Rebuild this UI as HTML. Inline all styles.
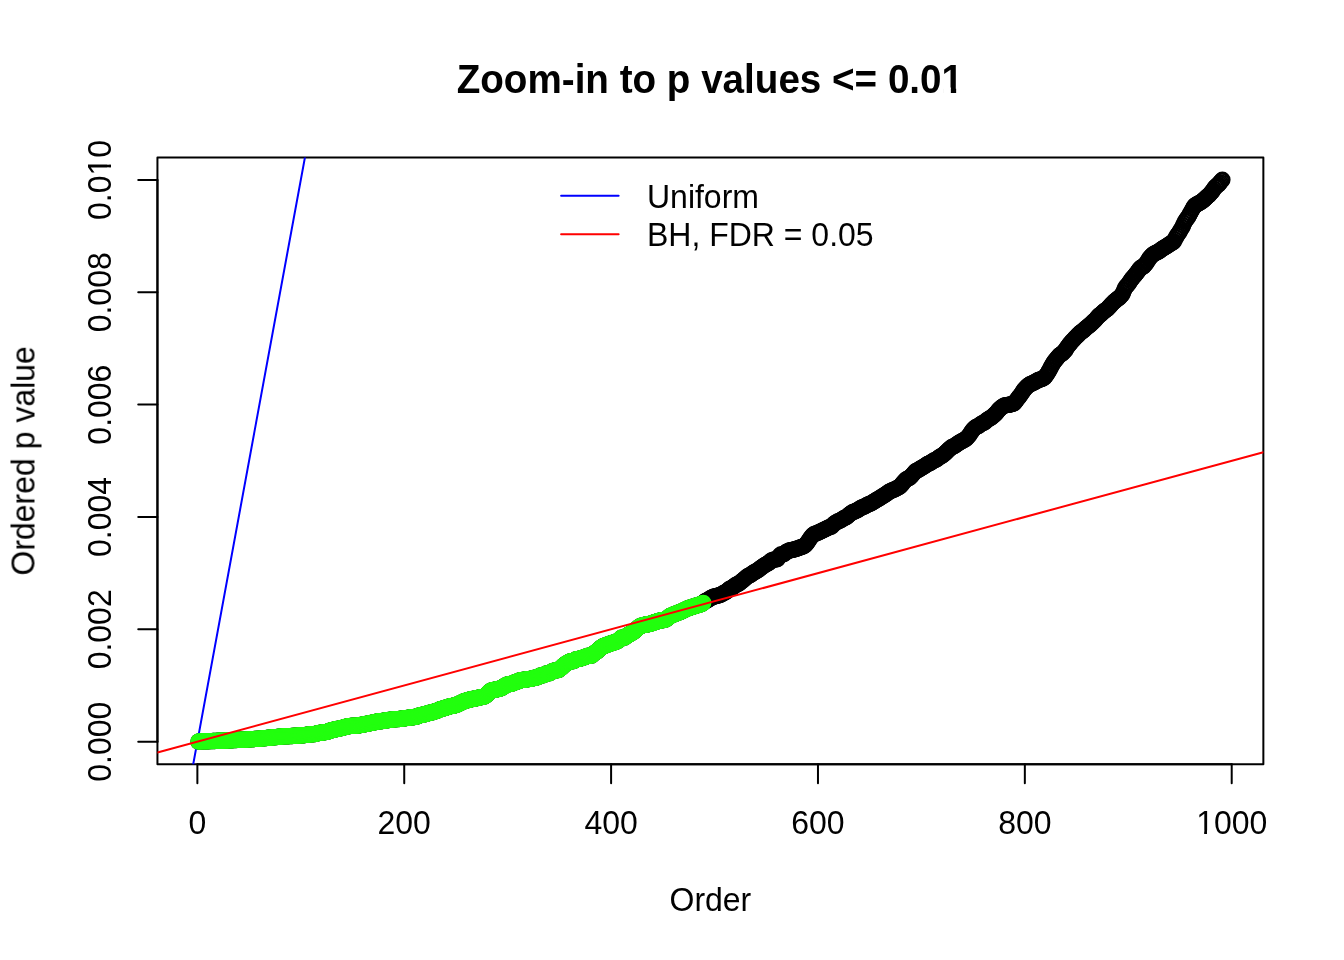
<!DOCTYPE html>
<html><head><meta charset="utf-8"><title>Zoom-in to p values</title><style>html,body{margin:0;padding:0;background:#fff;overflow:hidden}svg{display:block}</style></head>
<body><svg width="1344" height="960" viewBox="0 0 1344 960">
<defs><clipPath id="c"><rect x="157.44" y="157.44" width="1105.92" height="606.72"/></clipPath></defs>
<rect width="1344" height="960" fill="#fff"/>
<g clip-path="url(#c)">
<g fill="none" stroke="#000" stroke-width="2"><circle cx="198.4" cy="741.6" r="7.2"/><circle cx="199.4" cy="741.5" r="7.2"/><circle cx="200.5" cy="741.4" r="7.2"/><circle cx="201.5" cy="741.4" r="7.2"/><circle cx="202.5" cy="741.4" r="7.2"/><circle cx="203.6" cy="741.3" r="7.2"/><circle cx="204.6" cy="741.3" r="7.2"/><circle cx="205.6" cy="741.3" r="7.2"/><circle cx="206.7" cy="741.2" r="7.2"/><circle cx="207.7" cy="741.2" r="7.2"/><circle cx="208.7" cy="741.2" r="7.2"/><circle cx="209.8" cy="741.1" r="7.2"/><circle cx="210.8" cy="741.1" r="7.2"/><circle cx="211.8" cy="741.1" r="7.2"/><circle cx="212.9" cy="741.0" r="7.2"/><circle cx="213.9" cy="741.0" r="7.2"/><circle cx="214.9" cy="741.0" r="7.2"/><circle cx="216.0" cy="740.9" r="7.2"/><circle cx="217.0" cy="740.9" r="7.2"/><circle cx="218.1" cy="740.8" r="7.2"/><circle cx="219.1" cy="740.8" r="7.2"/><circle cx="220.1" cy="740.8" r="7.2"/><circle cx="221.2" cy="740.7" r="7.2"/><circle cx="222.2" cy="740.7" r="7.2"/><circle cx="223.2" cy="740.7" r="7.2"/><circle cx="224.3" cy="740.6" r="7.2"/><circle cx="225.3" cy="740.6" r="7.2"/><circle cx="226.3" cy="740.5" r="7.2"/><circle cx="227.4" cy="740.5" r="7.2"/><circle cx="228.4" cy="740.4" r="7.2"/><circle cx="229.4" cy="740.4" r="7.2"/><circle cx="230.5" cy="740.3" r="7.2"/><circle cx="231.5" cy="740.2" r="7.2"/><circle cx="232.5" cy="740.2" r="7.2"/><circle cx="233.6" cy="740.1" r="7.2"/><circle cx="234.6" cy="740.1" r="7.2"/><circle cx="235.6" cy="740.0" r="7.2"/><circle cx="236.7" cy="740.0" r="7.2"/><circle cx="237.7" cy="739.9" r="7.2"/><circle cx="238.7" cy="739.9" r="7.2"/><circle cx="239.8" cy="739.8" r="7.2"/><circle cx="240.8" cy="739.8" r="7.2"/><circle cx="241.8" cy="739.7" r="7.2"/><circle cx="242.9" cy="739.7" r="7.2"/><circle cx="243.9" cy="739.6" r="7.2"/><circle cx="244.9" cy="739.6" r="7.2"/><circle cx="246.0" cy="739.6" r="7.2"/><circle cx="247.0" cy="739.5" r="7.2"/><circle cx="248.0" cy="739.4" r="7.2"/><circle cx="249.1" cy="739.4" r="7.2"/><circle cx="250.1" cy="739.3" r="7.2"/><circle cx="251.2" cy="739.2" r="7.2"/><circle cx="252.2" cy="739.1" r="7.2"/><circle cx="253.2" cy="739.1" r="7.2"/><circle cx="254.3" cy="739.0" r="7.2"/><circle cx="255.3" cy="738.9" r="7.2"/><circle cx="256.3" cy="738.9" r="7.2"/><circle cx="257.4" cy="738.9" r="7.2"/><circle cx="258.4" cy="738.8" r="7.2"/><circle cx="259.4" cy="738.7" r="7.2"/><circle cx="260.5" cy="738.6" r="7.2"/><circle cx="261.5" cy="738.5" r="7.2"/><circle cx="262.5" cy="738.4" r="7.2"/><circle cx="263.6" cy="738.3" r="7.2"/><circle cx="264.6" cy="738.2" r="7.2"/><circle cx="265.6" cy="738.1" r="7.2"/><circle cx="266.7" cy="738.0" r="7.2"/><circle cx="267.7" cy="737.9" r="7.2"/><circle cx="268.7" cy="737.8" r="7.2"/><circle cx="269.8" cy="737.7" r="7.2"/><circle cx="270.8" cy="737.6" r="7.2"/><circle cx="271.8" cy="737.5" r="7.2"/><circle cx="272.9" cy="737.4" r="7.2"/><circle cx="273.9" cy="737.3" r="7.2"/><circle cx="274.9" cy="737.2" r="7.2"/><circle cx="276.0" cy="737.1" r="7.2"/><circle cx="277.0" cy="737.0" r="7.2"/><circle cx="278.0" cy="736.9" r="7.2"/><circle cx="279.1" cy="736.8" r="7.2"/><circle cx="280.1" cy="736.7" r="7.2"/><circle cx="281.1" cy="736.6" r="7.2"/><circle cx="282.2" cy="736.5" r="7.2"/><circle cx="283.2" cy="736.4" r="7.2"/><circle cx="284.3" cy="736.3" r="7.2"/><circle cx="285.3" cy="736.3" r="7.2"/><circle cx="286.3" cy="736.2" r="7.2"/><circle cx="287.4" cy="736.2" r="7.2"/><circle cx="288.4" cy="736.2" r="7.2"/><circle cx="289.4" cy="736.1" r="7.2"/><circle cx="290.5" cy="736.1" r="7.2"/><circle cx="291.5" cy="736.0" r="7.2"/><circle cx="292.5" cy="736.0" r="7.2"/><circle cx="293.6" cy="735.9" r="7.2"/><circle cx="294.6" cy="735.8" r="7.2"/><circle cx="295.6" cy="735.7" r="7.2"/><circle cx="296.7" cy="735.7" r="7.2"/><circle cx="297.7" cy="735.6" r="7.2"/><circle cx="298.7" cy="735.5" r="7.2"/><circle cx="299.8" cy="735.5" r="7.2"/><circle cx="300.8" cy="735.4" r="7.2"/><circle cx="301.8" cy="735.4" r="7.2"/><circle cx="302.9" cy="735.3" r="7.2"/><circle cx="303.9" cy="735.2" r="7.2"/><circle cx="304.9" cy="735.1" r="7.2"/><circle cx="306.0" cy="734.9" r="7.2"/><circle cx="307.0" cy="734.8" r="7.2"/><circle cx="308.0" cy="734.7" r="7.2"/><circle cx="309.1" cy="734.5" r="7.2"/><circle cx="310.1" cy="734.4" r="7.2"/><circle cx="311.1" cy="734.4" r="7.2"/><circle cx="312.2" cy="734.3" r="7.2"/><circle cx="313.2" cy="734.2" r="7.2"/><circle cx="314.2" cy="734.1" r="7.2"/><circle cx="315.3" cy="734.0" r="7.2"/><circle cx="316.3" cy="733.7" r="7.2"/><circle cx="317.3" cy="733.4" r="7.2"/><circle cx="318.4" cy="733.1" r="7.2"/><circle cx="319.4" cy="732.9" r="7.2"/><circle cx="320.5" cy="732.8" r="7.2"/><circle cx="321.5" cy="732.7" r="7.2"/><circle cx="322.5" cy="732.5" r="7.2"/><circle cx="323.6" cy="732.4" r="7.2"/><circle cx="324.6" cy="732.3" r="7.2"/><circle cx="325.6" cy="732.1" r="7.2"/><circle cx="326.7" cy="731.9" r="7.2"/><circle cx="327.7" cy="731.6" r="7.2"/><circle cx="328.7" cy="731.2" r="7.2"/><circle cx="329.8" cy="730.9" r="7.2"/><circle cx="330.8" cy="730.5" r="7.2"/><circle cx="331.8" cy="730.3" r="7.2"/><circle cx="332.9" cy="730.0" r="7.2"/><circle cx="333.9" cy="729.7" r="7.2"/><circle cx="334.9" cy="729.5" r="7.2"/><circle cx="336.0" cy="729.3" r="7.2"/><circle cx="337.0" cy="729.1" r="7.2"/><circle cx="338.0" cy="728.8" r="7.2"/><circle cx="339.1" cy="728.6" r="7.2"/><circle cx="340.1" cy="728.4" r="7.2"/><circle cx="341.1" cy="728.1" r="7.2"/><circle cx="342.2" cy="727.9" r="7.2"/><circle cx="343.2" cy="727.6" r="7.2"/><circle cx="344.2" cy="727.3" r="7.2"/><circle cx="345.3" cy="727.1" r="7.2"/><circle cx="346.3" cy="726.8" r="7.2"/><circle cx="347.3" cy="726.5" r="7.2"/><circle cx="348.4" cy="726.2" r="7.2"/><circle cx="349.4" cy="726.1" r="7.2"/><circle cx="350.4" cy="726.0" r="7.2"/><circle cx="351.5" cy="725.9" r="7.2"/><circle cx="352.5" cy="725.8" r="7.2"/><circle cx="353.6" cy="725.7" r="7.2"/><circle cx="354.6" cy="725.7" r="7.2"/><circle cx="355.6" cy="725.6" r="7.2"/><circle cx="356.7" cy="725.6" r="7.2"/><circle cx="357.7" cy="725.6" r="7.2"/><circle cx="358.7" cy="725.4" r="7.2"/><circle cx="359.8" cy="725.2" r="7.2"/><circle cx="360.8" cy="725.0" r="7.2"/><circle cx="361.8" cy="724.8" r="7.2"/><circle cx="362.9" cy="724.6" r="7.2"/><circle cx="363.9" cy="724.5" r="7.2"/><circle cx="364.9" cy="724.3" r="7.2"/><circle cx="366.0" cy="724.0" r="7.2"/><circle cx="367.0" cy="723.8" r="7.2"/><circle cx="368.0" cy="723.6" r="7.2"/><circle cx="369.1" cy="723.4" r="7.2"/><circle cx="370.1" cy="723.2" r="7.2"/><circle cx="371.1" cy="722.9" r="7.2"/><circle cx="372.2" cy="722.7" r="7.2"/><circle cx="373.2" cy="722.5" r="7.2"/><circle cx="374.2" cy="722.4" r="7.2"/><circle cx="375.3" cy="722.2" r="7.2"/><circle cx="376.3" cy="721.9" r="7.2"/><circle cx="377.3" cy="721.5" r="7.2"/><circle cx="378.4" cy="721.2" r="7.2"/><circle cx="379.4" cy="721.2" r="7.2"/><circle cx="380.4" cy="721.2" r="7.2"/><circle cx="381.5" cy="721.2" r="7.2"/><circle cx="382.5" cy="721.0" r="7.2"/><circle cx="383.5" cy="720.7" r="7.2"/><circle cx="384.6" cy="720.6" r="7.2"/><circle cx="385.6" cy="720.5" r="7.2"/><circle cx="386.7" cy="720.4" r="7.2"/><circle cx="387.7" cy="720.3" r="7.2"/><circle cx="388.7" cy="720.1" r="7.2"/><circle cx="389.8" cy="719.8" r="7.2"/><circle cx="390.8" cy="719.6" r="7.2"/><circle cx="391.8" cy="719.6" r="7.2"/><circle cx="392.9" cy="719.5" r="7.2"/><circle cx="393.9" cy="719.4" r="7.2"/><circle cx="394.9" cy="719.3" r="7.2"/><circle cx="396.0" cy="719.2" r="7.2"/><circle cx="397.0" cy="719.1" r="7.2"/><circle cx="398.0" cy="719.1" r="7.2"/><circle cx="399.1" cy="719.0" r="7.2"/><circle cx="400.1" cy="718.9" r="7.2"/><circle cx="401.1" cy="718.7" r="7.2"/><circle cx="402.2" cy="718.6" r="7.2"/><circle cx="403.2" cy="718.5" r="7.2"/><circle cx="404.2" cy="718.4" r="7.2"/><circle cx="405.3" cy="718.3" r="7.2"/><circle cx="406.3" cy="718.1" r="7.2"/><circle cx="407.3" cy="717.9" r="7.2"/><circle cx="408.4" cy="717.7" r="7.2"/><circle cx="409.4" cy="717.6" r="7.2"/><circle cx="410.4" cy="717.5" r="7.2"/><circle cx="411.5" cy="717.4" r="7.2"/><circle cx="412.5" cy="717.3" r="7.2"/><circle cx="413.5" cy="717.2" r="7.2"/><circle cx="414.6" cy="717.0" r="7.2"/><circle cx="415.6" cy="716.8" r="7.2"/><circle cx="416.6" cy="716.6" r="7.2"/><circle cx="417.7" cy="716.3" r="7.2"/><circle cx="418.7" cy="715.8" r="7.2"/><circle cx="419.7" cy="715.4" r="7.2"/><circle cx="420.8" cy="715.1" r="7.2"/><circle cx="421.8" cy="714.9" r="7.2"/><circle cx="422.9" cy="714.7" r="7.2"/><circle cx="423.9" cy="714.5" r="7.2"/><circle cx="424.9" cy="714.2" r="7.2"/><circle cx="426.0" cy="714.0" r="7.2"/><circle cx="427.0" cy="713.7" r="7.2"/><circle cx="428.0" cy="713.3" r="7.2"/><circle cx="429.1" cy="712.9" r="7.2"/><circle cx="430.1" cy="712.7" r="7.2"/><circle cx="431.1" cy="712.5" r="7.2"/><circle cx="432.2" cy="712.4" r="7.2"/><circle cx="433.2" cy="712.1" r="7.2"/><circle cx="434.2" cy="711.7" r="7.2"/><circle cx="435.3" cy="711.3" r="7.2"/><circle cx="436.3" cy="710.9" r="7.2"/><circle cx="437.3" cy="710.6" r="7.2"/><circle cx="438.4" cy="710.2" r="7.2"/><circle cx="439.4" cy="709.8" r="7.2"/><circle cx="440.4" cy="709.3" r="7.2"/><circle cx="441.5" cy="708.9" r="7.2"/><circle cx="442.5" cy="708.6" r="7.2"/><circle cx="443.5" cy="708.4" r="7.2"/><circle cx="444.6" cy="708.1" r="7.2"/><circle cx="445.6" cy="707.8" r="7.2"/><circle cx="446.6" cy="707.5" r="7.2"/><circle cx="447.7" cy="707.1" r="7.2"/><circle cx="448.7" cy="706.8" r="7.2"/><circle cx="449.7" cy="706.4" r="7.2"/><circle cx="450.8" cy="706.1" r="7.2"/><circle cx="451.8" cy="706.0" r="7.2"/><circle cx="452.8" cy="705.9" r="7.2"/><circle cx="453.9" cy="705.7" r="7.2"/><circle cx="454.9" cy="705.3" r="7.2"/><circle cx="456.0" cy="705.0" r="7.2"/><circle cx="457.0" cy="704.6" r="7.2"/><circle cx="458.0" cy="704.1" r="7.2"/><circle cx="459.1" cy="703.7" r="7.2"/><circle cx="460.1" cy="703.2" r="7.2"/><circle cx="461.1" cy="702.7" r="7.2"/><circle cx="462.2" cy="702.1" r="7.2"/><circle cx="463.2" cy="701.7" r="7.2"/><circle cx="464.2" cy="701.3" r="7.2"/><circle cx="465.3" cy="700.9" r="7.2"/><circle cx="466.3" cy="700.6" r="7.2"/><circle cx="467.3" cy="700.2" r="7.2"/><circle cx="468.4" cy="699.9" r="7.2"/><circle cx="469.4" cy="699.7" r="7.2"/><circle cx="470.4" cy="699.5" r="7.2"/><circle cx="471.5" cy="699.3" r="7.2"/><circle cx="472.5" cy="699.1" r="7.2"/><circle cx="473.5" cy="698.8" r="7.2"/><circle cx="474.6" cy="698.6" r="7.2"/><circle cx="475.6" cy="698.4" r="7.2"/><circle cx="476.6" cy="698.2" r="7.2"/><circle cx="477.7" cy="698.0" r="7.2"/><circle cx="478.7" cy="697.8" r="7.2"/><circle cx="479.7" cy="697.5" r="7.2"/><circle cx="480.8" cy="697.3" r="7.2"/><circle cx="481.8" cy="697.1" r="7.2"/><circle cx="482.8" cy="696.9" r="7.2"/><circle cx="483.9" cy="696.6" r="7.2"/><circle cx="484.9" cy="696.1" r="7.2"/><circle cx="485.9" cy="695.5" r="7.2"/><circle cx="487.0" cy="694.6" r="7.2"/><circle cx="488.0" cy="693.3" r="7.2"/><circle cx="489.1" cy="692.1" r="7.2"/><circle cx="490.1" cy="691.3" r="7.2"/><circle cx="491.1" cy="690.8" r="7.2"/><circle cx="492.2" cy="690.2" r="7.2"/><circle cx="493.2" cy="690.0" r="7.2"/><circle cx="494.2" cy="689.9" r="7.2"/><circle cx="495.3" cy="689.7" r="7.2"/><circle cx="496.3" cy="689.5" r="7.2"/><circle cx="497.3" cy="689.3" r="7.2"/><circle cx="498.4" cy="689.1" r="7.2"/><circle cx="499.4" cy="688.8" r="7.2"/><circle cx="500.4" cy="688.5" r="7.2"/><circle cx="501.5" cy="688.1" r="7.2"/><circle cx="502.5" cy="687.4" r="7.2"/><circle cx="503.5" cy="686.7" r="7.2"/><circle cx="504.6" cy="686.0" r="7.2"/><circle cx="505.6" cy="685.4" r="7.2"/><circle cx="506.6" cy="684.9" r="7.2"/><circle cx="507.7" cy="684.4" r="7.2"/><circle cx="508.7" cy="684.3" r="7.2"/><circle cx="509.7" cy="684.1" r="7.2"/><circle cx="510.8" cy="683.9" r="7.2"/><circle cx="511.8" cy="683.6" r="7.2"/><circle cx="512.8" cy="683.2" r="7.2"/><circle cx="513.9" cy="682.8" r="7.2"/><circle cx="514.9" cy="682.4" r="7.2"/><circle cx="515.9" cy="682.0" r="7.2"/><circle cx="517.0" cy="681.6" r="7.2"/><circle cx="518.0" cy="681.2" r="7.2"/><circle cx="519.0" cy="680.7" r="7.2"/><circle cx="520.1" cy="680.5" r="7.2"/><circle cx="521.1" cy="680.3" r="7.2"/><circle cx="522.1" cy="680.0" r="7.2"/><circle cx="523.2" cy="679.9" r="7.2"/><circle cx="524.2" cy="679.8" r="7.2"/><circle cx="525.3" cy="679.7" r="7.2"/><circle cx="526.3" cy="679.5" r="7.2"/><circle cx="527.3" cy="679.3" r="7.2"/><circle cx="528.4" cy="679.1" r="7.2"/><circle cx="529.4" cy="679.0" r="7.2"/><circle cx="530.4" cy="678.9" r="7.2"/><circle cx="531.5" cy="678.8" r="7.2"/><circle cx="532.5" cy="678.5" r="7.2"/><circle cx="533.5" cy="678.1" r="7.2"/><circle cx="534.6" cy="677.8" r="7.2"/><circle cx="535.6" cy="677.7" r="7.2"/><circle cx="536.6" cy="677.5" r="7.2"/><circle cx="537.7" cy="677.3" r="7.2"/><circle cx="538.7" cy="676.6" r="7.2"/><circle cx="539.7" cy="675.9" r="7.2"/><circle cx="540.8" cy="675.5" r="7.2"/><circle cx="541.8" cy="675.4" r="7.2"/><circle cx="542.8" cy="675.4" r="7.2"/><circle cx="543.9" cy="675.0" r="7.2"/><circle cx="544.9" cy="674.4" r="7.2"/><circle cx="545.9" cy="673.7" r="7.2"/><circle cx="547.0" cy="673.4" r="7.2"/><circle cx="548.0" cy="673.4" r="7.2"/><circle cx="549.0" cy="673.4" r="7.2"/><circle cx="550.1" cy="672.9" r="7.2"/><circle cx="551.1" cy="672.2" r="7.2"/><circle cx="552.1" cy="671.4" r="7.2"/><circle cx="553.2" cy="671.0" r="7.2"/><circle cx="554.2" cy="670.8" r="7.2"/><circle cx="555.2" cy="670.5" r="7.2"/><circle cx="556.3" cy="670.3" r="7.2"/><circle cx="557.3" cy="670.2" r="7.2"/><circle cx="558.4" cy="670.1" r="7.2"/><circle cx="559.4" cy="669.3" r="7.2"/><circle cx="560.4" cy="668.5" r="7.2"/><circle cx="561.5" cy="667.6" r="7.2"/><circle cx="562.5" cy="666.6" r="7.2"/><circle cx="563.5" cy="665.6" r="7.2"/><circle cx="564.6" cy="664.7" r="7.2"/><circle cx="565.6" cy="664.0" r="7.2"/><circle cx="566.6" cy="663.4" r="7.2"/><circle cx="567.7" cy="662.7" r="7.2"/><circle cx="568.7" cy="662.2" r="7.2"/><circle cx="569.7" cy="661.7" r="7.2"/><circle cx="570.8" cy="661.3" r="7.2"/><circle cx="571.8" cy="661.3" r="7.2"/><circle cx="572.8" cy="661.3" r="7.2"/><circle cx="573.9" cy="661.0" r="7.2"/><circle cx="574.9" cy="660.2" r="7.2"/><circle cx="575.9" cy="659.5" r="7.2"/><circle cx="577.0" cy="659.1" r="7.2"/><circle cx="578.0" cy="659.0" r="7.2"/><circle cx="579.0" cy="658.9" r="7.2"/><circle cx="580.1" cy="658.6" r="7.2"/><circle cx="581.1" cy="658.3" r="7.2"/><circle cx="582.1" cy="658.0" r="7.2"/><circle cx="583.2" cy="657.6" r="7.2"/><circle cx="584.2" cy="657.3" r="7.2"/><circle cx="585.2" cy="656.9" r="7.2"/><circle cx="586.3" cy="656.5" r="7.2"/><circle cx="587.3" cy="656.1" r="7.2"/><circle cx="588.3" cy="655.7" r="7.2"/><circle cx="589.4" cy="655.7" r="7.2"/><circle cx="590.4" cy="655.7" r="7.2"/><circle cx="591.5" cy="655.6" r="7.2"/><circle cx="592.5" cy="654.7" r="7.2"/><circle cx="593.5" cy="653.8" r="7.2"/><circle cx="594.6" cy="653.0" r="7.2"/><circle cx="595.6" cy="652.3" r="7.2"/><circle cx="596.6" cy="651.7" r="7.2"/><circle cx="597.7" cy="650.9" r="7.2"/><circle cx="598.7" cy="649.8" r="7.2"/><circle cx="599.7" cy="648.7" r="7.2"/><circle cx="600.8" cy="647.8" r="7.2"/><circle cx="601.8" cy="647.1" r="7.2"/><circle cx="602.8" cy="646.5" r="7.2"/><circle cx="603.9" cy="646.0" r="7.2"/><circle cx="604.9" cy="645.6" r="7.2"/><circle cx="605.9" cy="645.3" r="7.2"/><circle cx="607.0" cy="644.9" r="7.2"/><circle cx="608.0" cy="644.5" r="7.2"/><circle cx="609.0" cy="644.1" r="7.2"/><circle cx="610.1" cy="643.7" r="7.2"/><circle cx="611.1" cy="643.4" r="7.2"/><circle cx="612.1" cy="643.0" r="7.2"/><circle cx="613.2" cy="642.7" r="7.2"/><circle cx="614.2" cy="642.4" r="7.2"/><circle cx="615.2" cy="642.1" r="7.2"/><circle cx="616.3" cy="641.6" r="7.2"/><circle cx="617.3" cy="641.1" r="7.2"/><circle cx="618.3" cy="640.6" r="7.2"/><circle cx="619.4" cy="639.7" r="7.2"/><circle cx="620.4" cy="638.7" r="7.2"/><circle cx="621.4" cy="637.7" r="7.2"/><circle cx="622.5" cy="637.7" r="7.2"/><circle cx="623.5" cy="637.7" r="7.2"/><circle cx="624.5" cy="637.6" r="7.2"/><circle cx="625.6" cy="636.8" r="7.2"/><circle cx="626.6" cy="636.0" r="7.2"/><circle cx="627.7" cy="635.2" r="7.2"/><circle cx="628.7" cy="634.7" r="7.2"/><circle cx="629.7" cy="634.1" r="7.2"/><circle cx="630.8" cy="633.5" r="7.2"/><circle cx="631.8" cy="632.9" r="7.2"/><circle cx="632.8" cy="632.3" r="7.2"/><circle cx="633.9" cy="631.6" r="7.2"/><circle cx="634.9" cy="630.6" r="7.2"/><circle cx="635.9" cy="629.6" r="7.2"/><circle cx="637.0" cy="628.7" r="7.2"/><circle cx="638.0" cy="627.8" r="7.2"/><circle cx="639.0" cy="626.9" r="7.2"/><circle cx="640.1" cy="626.3" r="7.2"/><circle cx="641.1" cy="625.9" r="7.2"/><circle cx="642.1" cy="625.5" r="7.2"/><circle cx="643.2" cy="625.2" r="7.2"/><circle cx="644.2" cy="624.9" r="7.2"/><circle cx="645.2" cy="624.7" r="7.2"/><circle cx="646.3" cy="624.5" r="7.2"/><circle cx="647.3" cy="624.4" r="7.2"/><circle cx="648.3" cy="624.2" r="7.2"/><circle cx="649.4" cy="624.0" r="7.2"/><circle cx="650.4" cy="623.7" r="7.2"/><circle cx="651.4" cy="623.4" r="7.2"/><circle cx="652.5" cy="623.1" r="7.2"/><circle cx="653.5" cy="622.7" r="7.2"/><circle cx="654.5" cy="622.3" r="7.2"/><circle cx="655.6" cy="622.0" r="7.2"/><circle cx="656.6" cy="621.6" r="7.2"/><circle cx="657.6" cy="621.3" r="7.2"/><circle cx="658.7" cy="621.0" r="7.2"/><circle cx="659.7" cy="620.6" r="7.2"/><circle cx="660.8" cy="620.4" r="7.2"/><circle cx="661.8" cy="620.3" r="7.2"/><circle cx="662.8" cy="620.2" r="7.2"/><circle cx="663.9" cy="620.0" r="7.2"/><circle cx="664.9" cy="619.7" r="7.2"/><circle cx="665.9" cy="619.5" r="7.2"/><circle cx="667.0" cy="618.8" r="7.2"/><circle cx="668.0" cy="617.8" r="7.2"/><circle cx="669.0" cy="616.7" r="7.2"/><circle cx="670.1" cy="616.0" r="7.2"/><circle cx="671.1" cy="615.6" r="7.2"/><circle cx="672.1" cy="615.1" r="7.2"/><circle cx="673.2" cy="614.7" r="7.2"/><circle cx="674.2" cy="614.3" r="7.2"/><circle cx="675.2" cy="613.9" r="7.2"/><circle cx="676.3" cy="613.5" r="7.2"/><circle cx="677.3" cy="613.1" r="7.2"/><circle cx="678.3" cy="612.7" r="7.2"/><circle cx="679.4" cy="612.3" r="7.2"/><circle cx="680.4" cy="611.9" r="7.2"/><circle cx="681.4" cy="611.5" r="7.2"/><circle cx="682.5" cy="611.0" r="7.2"/><circle cx="683.5" cy="610.5" r="7.2"/><circle cx="684.5" cy="610.0" r="7.2"/><circle cx="685.6" cy="609.5" r="7.2"/><circle cx="686.6" cy="609.0" r="7.2"/><circle cx="687.6" cy="608.5" r="7.2"/><circle cx="688.7" cy="608.1" r="7.2"/><circle cx="689.7" cy="607.7" r="7.2"/><circle cx="690.7" cy="607.4" r="7.2"/><circle cx="691.8" cy="607.1" r="7.2"/><circle cx="692.8" cy="606.8" r="7.2"/><circle cx="693.9" cy="606.4" r="7.2"/><circle cx="694.9" cy="606.1" r="7.2"/><circle cx="695.9" cy="605.7" r="7.2"/><circle cx="697.0" cy="605.4" r="7.2"/><circle cx="698.0" cy="605.1" r="7.2"/><circle cx="699.0" cy="604.9" r="7.2"/><circle cx="700.1" cy="604.5" r="7.2"/><circle cx="701.1" cy="604.1" r="7.2"/><circle cx="702.1" cy="603.7" r="7.2"/><circle cx="703.2" cy="602.9" r="7.2"/><circle cx="704.2" cy="602.0" r="7.2"/><circle cx="705.2" cy="601.1" r="7.2"/><circle cx="706.3" cy="600.6" r="7.2"/><circle cx="707.3" cy="600.1" r="7.2"/><circle cx="708.3" cy="599.7" r="7.2"/><circle cx="709.4" cy="599.0" r="7.2"/><circle cx="710.4" cy="598.3" r="7.2"/><circle cx="711.4" cy="597.6" r="7.2"/><circle cx="712.5" cy="597.2" r="7.2"/><circle cx="713.5" cy="596.8" r="7.2"/><circle cx="714.5" cy="596.4" r="7.2"/><circle cx="715.6" cy="596.2" r="7.2"/><circle cx="716.6" cy="596.0" r="7.2"/><circle cx="717.6" cy="595.8" r="7.2"/><circle cx="718.7" cy="595.4" r="7.2"/><circle cx="719.7" cy="595.1" r="7.2"/><circle cx="720.7" cy="594.6" r="7.2"/><circle cx="721.8" cy="594.1" r="7.2"/><circle cx="722.8" cy="593.5" r="7.2"/><circle cx="723.8" cy="593.0" r="7.2"/><circle cx="724.9" cy="592.5" r="7.2"/><circle cx="725.9" cy="591.9" r="7.2"/><circle cx="726.9" cy="591.2" r="7.2"/><circle cx="728.0" cy="590.2" r="7.2"/><circle cx="729.0" cy="589.3" r="7.2"/><circle cx="730.1" cy="588.6" r="7.2"/><circle cx="731.1" cy="588.2" r="7.2"/><circle cx="732.1" cy="587.8" r="7.2"/><circle cx="733.2" cy="587.0" r="7.2"/><circle cx="734.2" cy="586.1" r="7.2"/><circle cx="735.2" cy="585.3" r="7.2"/><circle cx="736.3" cy="584.8" r="7.2"/><circle cx="737.3" cy="584.3" r="7.2"/><circle cx="738.3" cy="583.9" r="7.2"/><circle cx="739.4" cy="583.1" r="7.2"/><circle cx="740.4" cy="582.3" r="7.2"/><circle cx="741.4" cy="581.5" r="7.2"/><circle cx="742.5" cy="580.6" r="7.2"/><circle cx="743.5" cy="579.8" r="7.2"/><circle cx="744.5" cy="578.9" r="7.2"/><circle cx="745.6" cy="578.0" r="7.2"/><circle cx="746.6" cy="577.0" r="7.2"/><circle cx="747.6" cy="576.2" r="7.2"/><circle cx="748.7" cy="575.8" r="7.2"/><circle cx="749.7" cy="575.4" r="7.2"/><circle cx="750.7" cy="574.8" r="7.2"/><circle cx="751.8" cy="573.9" r="7.2"/><circle cx="752.8" cy="573.1" r="7.2"/><circle cx="753.8" cy="572.4" r="7.2"/><circle cx="754.9" cy="571.9" r="7.2"/><circle cx="755.9" cy="571.4" r="7.2"/><circle cx="756.9" cy="570.8" r="7.2"/><circle cx="758.0" cy="570.1" r="7.2"/><circle cx="759.0" cy="569.3" r="7.2"/><circle cx="760.0" cy="568.5" r="7.2"/><circle cx="761.1" cy="567.8" r="7.2"/><circle cx="762.1" cy="567.0" r="7.2"/><circle cx="763.2" cy="566.2" r="7.2"/><circle cx="764.2" cy="565.5" r="7.2"/><circle cx="765.2" cy="564.8" r="7.2"/><circle cx="766.3" cy="564.3" r="7.2"/><circle cx="767.3" cy="563.8" r="7.2"/><circle cx="768.3" cy="563.3" r="7.2"/><circle cx="769.4" cy="562.4" r="7.2"/><circle cx="770.4" cy="561.4" r="7.2"/><circle cx="771.4" cy="560.4" r="7.2"/><circle cx="772.5" cy="560.1" r="7.2"/><circle cx="773.5" cy="559.8" r="7.2"/><circle cx="774.5" cy="559.5" r="7.2"/><circle cx="775.6" cy="559.4" r="7.2"/><circle cx="776.6" cy="559.4" r="7.2"/><circle cx="777.6" cy="559.0" r="7.2"/><circle cx="778.7" cy="557.3" r="7.2"/><circle cx="779.7" cy="555.6" r="7.2"/><circle cx="780.7" cy="554.5" r="7.2"/><circle cx="781.8" cy="554.5" r="7.2"/><circle cx="782.8" cy="554.5" r="7.2"/><circle cx="783.8" cy="554.1" r="7.2"/><circle cx="784.9" cy="553.2" r="7.2"/><circle cx="785.9" cy="552.3" r="7.2"/><circle cx="786.9" cy="551.6" r="7.2"/><circle cx="788.0" cy="551.1" r="7.2"/><circle cx="789.0" cy="550.6" r="7.2"/><circle cx="790.0" cy="550.3" r="7.2"/><circle cx="791.1" cy="550.1" r="7.2"/><circle cx="792.1" cy="550.0" r="7.2"/><circle cx="793.1" cy="549.8" r="7.2"/><circle cx="794.2" cy="549.5" r="7.2"/><circle cx="795.2" cy="549.2" r="7.2"/><circle cx="796.3" cy="548.9" r="7.2"/><circle cx="797.3" cy="548.5" r="7.2"/><circle cx="798.3" cy="548.1" r="7.2"/><circle cx="799.4" cy="547.8" r="7.2"/><circle cx="800.4" cy="547.4" r="7.2"/><circle cx="801.4" cy="547.0" r="7.2"/><circle cx="802.5" cy="546.7" r="7.2"/><circle cx="803.5" cy="546.3" r="7.2"/><circle cx="804.5" cy="545.8" r="7.2"/><circle cx="805.6" cy="544.7" r="7.2"/><circle cx="806.6" cy="543.5" r="7.2"/><circle cx="807.6" cy="542.3" r="7.2"/><circle cx="808.7" cy="540.6" r="7.2"/><circle cx="809.7" cy="539.0" r="7.2"/><circle cx="810.7" cy="537.5" r="7.2"/><circle cx="811.8" cy="536.3" r="7.2"/><circle cx="812.8" cy="535.1" r="7.2"/><circle cx="813.8" cy="534.2" r="7.2"/><circle cx="814.9" cy="533.9" r="7.2"/><circle cx="815.9" cy="533.5" r="7.2"/><circle cx="816.9" cy="533.1" r="7.2"/><circle cx="818.0" cy="532.6" r="7.2"/><circle cx="819.0" cy="532.1" r="7.2"/><circle cx="820.0" cy="531.6" r="7.2"/><circle cx="821.1" cy="531.2" r="7.2"/><circle cx="822.1" cy="530.8" r="7.2"/><circle cx="823.1" cy="530.3" r="7.2"/><circle cx="824.2" cy="529.8" r="7.2"/><circle cx="825.2" cy="529.3" r="7.2"/><circle cx="826.2" cy="528.7" r="7.2"/><circle cx="827.3" cy="528.2" r="7.2"/><circle cx="828.3" cy="527.6" r="7.2"/><circle cx="829.3" cy="527.2" r="7.2"/><circle cx="830.4" cy="526.9" r="7.2"/><circle cx="831.4" cy="526.6" r="7.2"/><circle cx="832.5" cy="525.5" r="7.2"/><circle cx="833.5" cy="524.4" r="7.2"/><circle cx="834.5" cy="523.4" r="7.2"/><circle cx="835.6" cy="522.8" r="7.2"/><circle cx="836.6" cy="522.1" r="7.2"/><circle cx="837.6" cy="521.5" r="7.2"/><circle cx="838.7" cy="521.2" r="7.2"/><circle cx="839.7" cy="520.8" r="7.2"/><circle cx="840.7" cy="520.3" r="7.2"/><circle cx="841.8" cy="519.6" r="7.2"/><circle cx="842.8" cy="518.8" r="7.2"/><circle cx="843.8" cy="518.2" r="7.2"/><circle cx="844.9" cy="517.8" r="7.2"/><circle cx="845.9" cy="517.4" r="7.2"/><circle cx="846.9" cy="516.7" r="7.2"/><circle cx="848.0" cy="515.8" r="7.2"/><circle cx="849.0" cy="514.8" r="7.2"/><circle cx="850.0" cy="514.0" r="7.2"/><circle cx="851.1" cy="513.2" r="7.2"/><circle cx="852.1" cy="512.5" r="7.2"/><circle cx="853.1" cy="512.0" r="7.2"/><circle cx="854.2" cy="511.6" r="7.2"/><circle cx="855.2" cy="511.3" r="7.2"/><circle cx="856.2" cy="510.8" r="7.2"/><circle cx="857.3" cy="510.2" r="7.2"/><circle cx="858.3" cy="509.7" r="7.2"/><circle cx="859.3" cy="509.0" r="7.2"/><circle cx="860.4" cy="508.3" r="7.2"/><circle cx="861.4" cy="507.6" r="7.2"/><circle cx="862.4" cy="507.2" r="7.2"/><circle cx="863.5" cy="506.9" r="7.2"/><circle cx="864.5" cy="506.5" r="7.2"/><circle cx="865.6" cy="505.9" r="7.2"/><circle cx="866.6" cy="505.2" r="7.2"/><circle cx="867.6" cy="504.6" r="7.2"/><circle cx="868.7" cy="504.3" r="7.2"/><circle cx="869.7" cy="503.9" r="7.2"/><circle cx="870.7" cy="503.5" r="7.2"/><circle cx="871.8" cy="502.9" r="7.2"/><circle cx="872.8" cy="502.2" r="7.2"/><circle cx="873.8" cy="501.6" r="7.2"/><circle cx="874.9" cy="500.9" r="7.2"/><circle cx="875.9" cy="500.3" r="7.2"/><circle cx="876.9" cy="499.7" r="7.2"/><circle cx="878.0" cy="499.1" r="7.2"/><circle cx="879.0" cy="498.5" r="7.2"/><circle cx="880.0" cy="497.9" r="7.2"/><circle cx="881.1" cy="497.2" r="7.2"/><circle cx="882.1" cy="496.5" r="7.2"/><circle cx="883.1" cy="495.9" r="7.2"/><circle cx="884.2" cy="495.3" r="7.2"/><circle cx="885.2" cy="494.7" r="7.2"/><circle cx="886.2" cy="493.9" r="7.2"/><circle cx="887.3" cy="493.1" r="7.2"/><circle cx="888.3" cy="492.3" r="7.2"/><circle cx="889.3" cy="491.8" r="7.2"/><circle cx="890.4" cy="491.3" r="7.2"/><circle cx="891.4" cy="490.8" r="7.2"/><circle cx="892.4" cy="490.3" r="7.2"/><circle cx="893.5" cy="489.9" r="7.2"/><circle cx="894.5" cy="489.4" r="7.2"/><circle cx="895.5" cy="488.9" r="7.2"/><circle cx="896.6" cy="488.4" r="7.2"/><circle cx="897.6" cy="487.8" r="7.2"/><circle cx="898.7" cy="487.2" r="7.2"/><circle cx="899.7" cy="486.6" r="7.2"/><circle cx="900.7" cy="485.7" r="7.2"/><circle cx="901.8" cy="484.4" r="7.2"/><circle cx="902.8" cy="483.1" r="7.2"/><circle cx="903.8" cy="481.8" r="7.2"/><circle cx="904.9" cy="480.7" r="7.2"/><circle cx="905.9" cy="479.6" r="7.2"/><circle cx="906.9" cy="478.9" r="7.2"/><circle cx="908.0" cy="478.5" r="7.2"/><circle cx="909.0" cy="478.2" r="7.2"/><circle cx="910.0" cy="477.4" r="7.2"/><circle cx="911.1" cy="476.3" r="7.2"/><circle cx="912.1" cy="475.2" r="7.2"/><circle cx="913.1" cy="474.0" r="7.2"/><circle cx="914.2" cy="472.7" r="7.2"/><circle cx="915.2" cy="471.5" r="7.2"/><circle cx="916.2" cy="470.9" r="7.2"/><circle cx="917.3" cy="470.5" r="7.2"/><circle cx="918.3" cy="470.0" r="7.2"/><circle cx="919.3" cy="469.3" r="7.2"/><circle cx="920.4" cy="468.6" r="7.2"/><circle cx="921.4" cy="467.9" r="7.2"/><circle cx="922.4" cy="467.4" r="7.2"/><circle cx="923.5" cy="466.8" r="7.2"/><circle cx="924.5" cy="466.3" r="7.2"/><circle cx="925.5" cy="465.5" r="7.2"/><circle cx="926.6" cy="464.7" r="7.2"/><circle cx="927.6" cy="464.0" r="7.2"/><circle cx="928.6" cy="463.6" r="7.2"/><circle cx="929.7" cy="463.1" r="7.2"/><circle cx="930.7" cy="462.6" r="7.2"/><circle cx="931.7" cy="461.9" r="7.2"/><circle cx="932.8" cy="461.1" r="7.2"/><circle cx="933.8" cy="460.5" r="7.2"/><circle cx="934.9" cy="460.1" r="7.2"/><circle cx="935.9" cy="459.7" r="7.2"/><circle cx="936.9" cy="459.1" r="7.2"/><circle cx="938.0" cy="458.2" r="7.2"/><circle cx="939.0" cy="457.4" r="7.2"/><circle cx="940.0" cy="456.8" r="7.2"/><circle cx="941.1" cy="456.3" r="7.2"/><circle cx="942.1" cy="455.7" r="7.2"/><circle cx="943.1" cy="454.9" r="7.2"/><circle cx="944.2" cy="454.0" r="7.2"/><circle cx="945.2" cy="453.1" r="7.2"/><circle cx="946.2" cy="452.1" r="7.2"/><circle cx="947.3" cy="451.1" r="7.2"/><circle cx="948.3" cy="450.0" r="7.2"/><circle cx="949.3" cy="449.1" r="7.2"/><circle cx="950.4" cy="448.2" r="7.2"/><circle cx="951.4" cy="447.3" r="7.2"/><circle cx="952.4" cy="446.9" r="7.2"/><circle cx="953.5" cy="446.4" r="7.2"/><circle cx="954.5" cy="445.9" r="7.2"/><circle cx="955.5" cy="445.2" r="7.2"/><circle cx="956.6" cy="444.4" r="7.2"/><circle cx="957.6" cy="443.7" r="7.2"/><circle cx="958.6" cy="443.0" r="7.2"/><circle cx="959.7" cy="442.4" r="7.2"/><circle cx="960.7" cy="441.8" r="7.2"/><circle cx="961.7" cy="441.3" r="7.2"/><circle cx="962.8" cy="440.7" r="7.2"/><circle cx="963.8" cy="440.2" r="7.2"/><circle cx="964.8" cy="439.5" r="7.2"/><circle cx="965.9" cy="438.9" r="7.2"/><circle cx="966.9" cy="438.0" r="7.2"/><circle cx="968.0" cy="436.7" r="7.2"/><circle cx="969.0" cy="435.5" r="7.2"/><circle cx="970.0" cy="434.1" r="7.2"/><circle cx="971.1" cy="432.4" r="7.2"/><circle cx="972.1" cy="430.7" r="7.2"/><circle cx="973.1" cy="429.5" r="7.2"/><circle cx="974.2" cy="428.5" r="7.2"/><circle cx="975.2" cy="427.5" r="7.2"/><circle cx="976.2" cy="427.0" r="7.2"/><circle cx="977.3" cy="426.5" r="7.2"/><circle cx="978.3" cy="426.1" r="7.2"/><circle cx="979.3" cy="425.3" r="7.2"/><circle cx="980.4" cy="424.5" r="7.2"/><circle cx="981.4" cy="423.7" r="7.2"/><circle cx="982.4" cy="423.3" r="7.2"/><circle cx="983.5" cy="422.9" r="7.2"/><circle cx="984.5" cy="422.4" r="7.2"/><circle cx="985.5" cy="421.4" r="7.2"/><circle cx="986.6" cy="420.4" r="7.2"/><circle cx="987.6" cy="419.6" r="7.2"/><circle cx="988.6" cy="419.0" r="7.2"/><circle cx="989.7" cy="418.5" r="7.2"/><circle cx="990.7" cy="417.9" r="7.2"/><circle cx="991.7" cy="417.1" r="7.2"/><circle cx="992.8" cy="416.3" r="7.2"/><circle cx="993.8" cy="415.4" r="7.2"/><circle cx="994.8" cy="414.4" r="7.2"/><circle cx="995.9" cy="413.4" r="7.2"/><circle cx="996.9" cy="412.3" r="7.2"/><circle cx="997.9" cy="410.9" r="7.2"/><circle cx="999.0" cy="409.6" r="7.2"/><circle cx="1000.0" cy="408.6" r="7.2"/><circle cx="1001.1" cy="407.7" r="7.2"/><circle cx="1002.1" cy="406.9" r="7.2"/><circle cx="1003.1" cy="406.3" r="7.2"/><circle cx="1004.2" cy="405.8" r="7.2"/><circle cx="1005.2" cy="405.3" r="7.2"/><circle cx="1006.2" cy="405.1" r="7.2"/><circle cx="1007.3" cy="405.0" r="7.2"/><circle cx="1008.3" cy="404.9" r="7.2"/><circle cx="1009.3" cy="404.7" r="7.2"/><circle cx="1010.4" cy="404.5" r="7.2"/><circle cx="1011.4" cy="404.3" r="7.2"/><circle cx="1012.4" cy="403.9" r="7.2"/><circle cx="1013.5" cy="403.4" r="7.2"/><circle cx="1014.5" cy="402.9" r="7.2"/><circle cx="1015.5" cy="401.5" r="7.2"/><circle cx="1016.6" cy="400.1" r="7.2"/><circle cx="1017.6" cy="398.7" r="7.2"/><circle cx="1018.6" cy="397.4" r="7.2"/><circle cx="1019.7" cy="396.1" r="7.2"/><circle cx="1020.7" cy="394.7" r="7.2"/><circle cx="1021.7" cy="393.2" r="7.2"/><circle cx="1022.8" cy="391.6" r="7.2"/><circle cx="1023.8" cy="390.1" r="7.2"/><circle cx="1024.8" cy="388.9" r="7.2"/><circle cx="1025.9" cy="387.7" r="7.2"/><circle cx="1026.9" cy="386.6" r="7.2"/><circle cx="1027.9" cy="385.8" r="7.2"/><circle cx="1029.0" cy="384.9" r="7.2"/><circle cx="1030.0" cy="384.3" r="7.2"/><circle cx="1031.0" cy="383.9" r="7.2"/><circle cx="1032.1" cy="383.5" r="7.2"/><circle cx="1033.1" cy="383.0" r="7.2"/><circle cx="1034.1" cy="382.4" r="7.2"/><circle cx="1035.2" cy="381.9" r="7.2"/><circle cx="1036.2" cy="381.2" r="7.2"/><circle cx="1037.3" cy="380.6" r="7.2"/><circle cx="1038.3" cy="380.0" r="7.2"/><circle cx="1039.3" cy="379.7" r="7.2"/><circle cx="1040.4" cy="379.5" r="7.2"/><circle cx="1041.4" cy="379.2" r="7.2"/><circle cx="1042.4" cy="378.7" r="7.2"/><circle cx="1043.5" cy="378.1" r="7.2"/><circle cx="1044.5" cy="377.5" r="7.2"/><circle cx="1045.5" cy="376.1" r="7.2"/><circle cx="1046.6" cy="374.7" r="7.2"/><circle cx="1047.6" cy="373.2" r="7.2"/><circle cx="1048.6" cy="371.4" r="7.2"/><circle cx="1049.7" cy="369.5" r="7.2"/><circle cx="1050.7" cy="367.6" r="7.2"/><circle cx="1051.7" cy="365.8" r="7.2"/><circle cx="1052.8" cy="363.9" r="7.2"/><circle cx="1053.8" cy="362.3" r="7.2"/><circle cx="1054.8" cy="360.9" r="7.2"/><circle cx="1055.9" cy="359.6" r="7.2"/><circle cx="1056.9" cy="358.3" r="7.2"/><circle cx="1057.9" cy="357.1" r="7.2"/><circle cx="1059.0" cy="355.8" r="7.2"/><circle cx="1060.0" cy="354.9" r="7.2"/><circle cx="1061.0" cy="354.3" r="7.2"/><circle cx="1062.1" cy="353.6" r="7.2"/><circle cx="1063.1" cy="352.7" r="7.2"/><circle cx="1064.1" cy="351.5" r="7.2"/><circle cx="1065.2" cy="350.4" r="7.2"/><circle cx="1066.2" cy="348.9" r="7.2"/><circle cx="1067.2" cy="347.3" r="7.2"/><circle cx="1068.3" cy="345.7" r="7.2"/><circle cx="1069.3" cy="344.4" r="7.2"/><circle cx="1070.4" cy="343.2" r="7.2"/><circle cx="1071.4" cy="341.9" r="7.2"/><circle cx="1072.4" cy="340.8" r="7.2"/><circle cx="1073.5" cy="339.7" r="7.2"/><circle cx="1074.5" cy="338.5" r="7.2"/><circle cx="1075.5" cy="337.5" r="7.2"/><circle cx="1076.6" cy="336.5" r="7.2"/><circle cx="1077.6" cy="335.4" r="7.2"/><circle cx="1078.6" cy="334.4" r="7.2"/><circle cx="1079.7" cy="333.3" r="7.2"/><circle cx="1080.7" cy="332.4" r="7.2"/><circle cx="1081.7" cy="331.7" r="7.2"/><circle cx="1082.8" cy="331.0" r="7.2"/><circle cx="1083.8" cy="330.1" r="7.2"/><circle cx="1084.8" cy="329.1" r="7.2"/><circle cx="1085.9" cy="328.1" r="7.2"/><circle cx="1086.9" cy="327.2" r="7.2"/><circle cx="1087.9" cy="326.5" r="7.2"/><circle cx="1089.0" cy="325.8" r="7.2"/><circle cx="1090.0" cy="324.9" r="7.2"/><circle cx="1091.0" cy="323.9" r="7.2"/><circle cx="1092.1" cy="322.9" r="7.2"/><circle cx="1093.1" cy="321.9" r="7.2"/><circle cx="1094.1" cy="320.9" r="7.2"/><circle cx="1095.2" cy="320.0" r="7.2"/><circle cx="1096.2" cy="318.8" r="7.2"/><circle cx="1097.2" cy="317.5" r="7.2"/><circle cx="1098.3" cy="316.3" r="7.2"/><circle cx="1099.3" cy="315.4" r="7.2"/><circle cx="1100.3" cy="314.6" r="7.2"/><circle cx="1101.4" cy="313.8" r="7.2"/><circle cx="1102.4" cy="312.8" r="7.2"/><circle cx="1103.5" cy="311.8" r="7.2"/><circle cx="1104.5" cy="310.9" r="7.2"/><circle cx="1105.5" cy="310.2" r="7.2"/><circle cx="1106.6" cy="309.5" r="7.2"/><circle cx="1107.6" cy="308.7" r="7.2"/><circle cx="1108.6" cy="307.5" r="7.2"/><circle cx="1109.7" cy="306.4" r="7.2"/><circle cx="1110.7" cy="305.2" r="7.2"/><circle cx="1111.7" cy="304.1" r="7.2"/><circle cx="1112.8" cy="303.0" r="7.2"/><circle cx="1113.8" cy="302.0" r="7.2"/><circle cx="1114.8" cy="301.1" r="7.2"/><circle cx="1115.9" cy="300.2" r="7.2"/><circle cx="1116.9" cy="299.3" r="7.2"/><circle cx="1117.9" cy="298.7" r="7.2"/><circle cx="1119.0" cy="298.0" r="7.2"/><circle cx="1120.0" cy="297.0" r="7.2"/><circle cx="1121.0" cy="295.8" r="7.2"/><circle cx="1122.1" cy="294.6" r="7.2"/><circle cx="1123.1" cy="292.6" r="7.2"/><circle cx="1124.1" cy="290.2" r="7.2"/><circle cx="1125.2" cy="287.8" r="7.2"/><circle cx="1126.2" cy="286.4" r="7.2"/><circle cx="1127.2" cy="285.3" r="7.2"/><circle cx="1128.3" cy="284.2" r="7.2"/><circle cx="1129.3" cy="282.6" r="7.2"/><circle cx="1130.3" cy="281.0" r="7.2"/><circle cx="1131.4" cy="279.4" r="7.2"/><circle cx="1132.4" cy="278.2" r="7.2"/><circle cx="1133.4" cy="277.0" r="7.2"/><circle cx="1134.5" cy="275.8" r="7.2"/><circle cx="1135.5" cy="274.5" r="7.2"/><circle cx="1136.5" cy="273.2" r="7.2"/><circle cx="1137.6" cy="271.9" r="7.2"/><circle cx="1138.6" cy="270.4" r="7.2"/><circle cx="1139.7" cy="268.9" r="7.2"/><circle cx="1140.7" cy="267.7" r="7.2"/><circle cx="1141.7" cy="267.3" r="7.2"/><circle cx="1142.8" cy="266.9" r="7.2"/><circle cx="1143.8" cy="266.2" r="7.2"/><circle cx="1144.8" cy="264.9" r="7.2"/><circle cx="1145.9" cy="263.7" r="7.2"/><circle cx="1146.9" cy="262.3" r="7.2"/><circle cx="1147.9" cy="260.6" r="7.2"/><circle cx="1149.0" cy="258.9" r="7.2"/><circle cx="1150.0" cy="257.5" r="7.2"/><circle cx="1151.0" cy="256.4" r="7.2"/><circle cx="1152.1" cy="255.2" r="7.2"/><circle cx="1153.1" cy="254.4" r="7.2"/><circle cx="1154.1" cy="253.8" r="7.2"/><circle cx="1155.2" cy="253.2" r="7.2"/><circle cx="1156.2" cy="252.7" r="7.2"/><circle cx="1157.2" cy="252.3" r="7.2"/><circle cx="1158.3" cy="251.8" r="7.2"/><circle cx="1159.3" cy="251.1" r="7.2"/><circle cx="1160.3" cy="250.2" r="7.2"/><circle cx="1161.4" cy="249.4" r="7.2"/><circle cx="1162.4" cy="248.8" r="7.2"/><circle cx="1163.4" cy="248.1" r="7.2"/><circle cx="1164.5" cy="247.4" r="7.2"/><circle cx="1165.5" cy="246.9" r="7.2"/><circle cx="1166.5" cy="246.3" r="7.2"/><circle cx="1167.6" cy="245.7" r="7.2"/><circle cx="1168.6" cy="244.9" r="7.2"/><circle cx="1169.6" cy="244.1" r="7.2"/><circle cx="1170.7" cy="243.4" r="7.2"/><circle cx="1171.7" cy="242.9" r="7.2"/><circle cx="1172.8" cy="242.5" r="7.2"/><circle cx="1173.8" cy="241.4" r="7.2"/><circle cx="1174.8" cy="239.4" r="7.2"/><circle cx="1175.9" cy="237.4" r="7.2"/><circle cx="1176.9" cy="235.6" r="7.2"/><circle cx="1177.9" cy="234.2" r="7.2"/><circle cx="1179.0" cy="232.8" r="7.2"/><circle cx="1180.0" cy="231.1" r="7.2"/><circle cx="1181.0" cy="229.3" r="7.2"/><circle cx="1182.1" cy="227.5" r="7.2"/><circle cx="1183.1" cy="225.4" r="7.2"/><circle cx="1184.1" cy="223.3" r="7.2"/><circle cx="1185.2" cy="221.1" r="7.2"/><circle cx="1186.2" cy="219.6" r="7.2"/><circle cx="1187.2" cy="218.2" r="7.2"/><circle cx="1188.3" cy="216.9" r="7.2"/><circle cx="1189.3" cy="215.0" r="7.2"/><circle cx="1190.3" cy="213.1" r="7.2"/><circle cx="1191.4" cy="211.2" r="7.2"/><circle cx="1192.4" cy="209.3" r="7.2"/><circle cx="1193.4" cy="207.5" r="7.2"/><circle cx="1194.5" cy="205.7" r="7.2"/><circle cx="1195.5" cy="205.1" r="7.2"/><circle cx="1196.5" cy="204.5" r="7.2"/><circle cx="1197.6" cy="203.9" r="7.2"/><circle cx="1198.6" cy="203.4" r="7.2"/><circle cx="1199.6" cy="202.8" r="7.2"/><circle cx="1200.7" cy="202.2" r="7.2"/><circle cx="1201.7" cy="201.5" r="7.2"/><circle cx="1202.7" cy="200.7" r="7.2"/><circle cx="1203.8" cy="199.9" r="7.2"/><circle cx="1204.8" cy="198.9" r="7.2"/><circle cx="1205.9" cy="197.9" r="7.2"/><circle cx="1206.9" cy="196.9" r="7.2"/><circle cx="1207.9" cy="196.0" r="7.2"/><circle cx="1209.0" cy="195.1" r="7.2"/><circle cx="1210.0" cy="194.0" r="7.2"/><circle cx="1211.0" cy="192.8" r="7.2"/><circle cx="1212.1" cy="191.6" r="7.2"/><circle cx="1213.1" cy="190.1" r="7.2"/><circle cx="1214.1" cy="188.6" r="7.2"/><circle cx="1215.2" cy="187.1" r="7.2"/><circle cx="1216.2" cy="186.2" r="7.2"/><circle cx="1217.2" cy="185.4" r="7.2"/><circle cx="1218.3" cy="184.6" r="7.2"/><circle cx="1219.3" cy="183.4" r="7.2"/><circle cx="1220.3" cy="182.1" r="7.2"/><circle cx="1221.4" cy="180.8" r="7.2"/><circle cx="1222.4" cy="179.8" r="7.2"/></g>
</g>
<line x1="197.37" y1="764.16" x2="1231.71" y2="764.16" stroke="#000" stroke-width="2" stroke-linecap="round"/><line x1="197.37" y1="764.16" x2="197.37" y2="783.36" stroke="#000" stroke-width="2" stroke-linecap="round"/><line x1="404.23" y1="764.16" x2="404.23" y2="783.36" stroke="#000" stroke-width="2" stroke-linecap="round"/><line x1="611.10" y1="764.16" x2="611.10" y2="783.36" stroke="#000" stroke-width="2" stroke-linecap="round"/><line x1="817.97" y1="764.16" x2="817.97" y2="783.36" stroke="#000" stroke-width="2" stroke-linecap="round"/><line x1="1024.84" y1="764.16" x2="1024.84" y2="783.36" stroke="#000" stroke-width="2" stroke-linecap="round"/><line x1="1231.71" y1="764.16" x2="1231.71" y2="783.36" stroke="#000" stroke-width="2" stroke-linecap="round"/><line x1="157.44" y1="741.69" x2="157.44" y2="179.91" stroke="#000" stroke-width="2" stroke-linecap="round"/><line x1="138.24" y1="741.69" x2="157.44" y2="741.69" stroke="#000" stroke-width="2" stroke-linecap="round"/><line x1="138.24" y1="629.33" x2="157.44" y2="629.33" stroke="#000" stroke-width="2" stroke-linecap="round"/><line x1="138.24" y1="516.98" x2="157.44" y2="516.98" stroke="#000" stroke-width="2" stroke-linecap="round"/><line x1="138.24" y1="404.62" x2="157.44" y2="404.62" stroke="#000" stroke-width="2" stroke-linecap="round"/><line x1="138.24" y1="292.27" x2="157.44" y2="292.27" stroke="#000" stroke-width="2" stroke-linecap="round"/><line x1="138.24" y1="179.91" x2="157.44" y2="179.91" stroke="#000" stroke-width="2" stroke-linecap="round"/>
<rect x="157.44" y="157.44" width="1105.92" height="606.72" fill="none" stroke="#000" stroke-width="2" stroke-linejoin="round"/>
<g clip-path="url(#c)">
<line x1="157.44" y1="958.54" x2="1263.36" y2="-5047.99" stroke="#0000ff" stroke-width="2" stroke-linecap="round"/>
<g fill="none" stroke="#22ff0e" stroke-width="2"><circle cx="198.4" cy="741.6" r="7.2"/><circle cx="199.4" cy="741.5" r="7.2"/><circle cx="200.5" cy="741.4" r="7.2"/><circle cx="201.5" cy="741.4" r="7.2"/><circle cx="202.5" cy="741.4" r="7.2"/><circle cx="203.6" cy="741.3" r="7.2"/><circle cx="204.6" cy="741.3" r="7.2"/><circle cx="205.6" cy="741.3" r="7.2"/><circle cx="206.7" cy="741.2" r="7.2"/><circle cx="207.7" cy="741.2" r="7.2"/><circle cx="208.7" cy="741.2" r="7.2"/><circle cx="209.8" cy="741.1" r="7.2"/><circle cx="210.8" cy="741.1" r="7.2"/><circle cx="211.8" cy="741.1" r="7.2"/><circle cx="212.9" cy="741.0" r="7.2"/><circle cx="213.9" cy="741.0" r="7.2"/><circle cx="214.9" cy="741.0" r="7.2"/><circle cx="216.0" cy="740.9" r="7.2"/><circle cx="217.0" cy="740.9" r="7.2"/><circle cx="218.1" cy="740.8" r="7.2"/><circle cx="219.1" cy="740.8" r="7.2"/><circle cx="220.1" cy="740.8" r="7.2"/><circle cx="221.2" cy="740.7" r="7.2"/><circle cx="222.2" cy="740.7" r="7.2"/><circle cx="223.2" cy="740.7" r="7.2"/><circle cx="224.3" cy="740.6" r="7.2"/><circle cx="225.3" cy="740.6" r="7.2"/><circle cx="226.3" cy="740.5" r="7.2"/><circle cx="227.4" cy="740.5" r="7.2"/><circle cx="228.4" cy="740.4" r="7.2"/><circle cx="229.4" cy="740.4" r="7.2"/><circle cx="230.5" cy="740.3" r="7.2"/><circle cx="231.5" cy="740.2" r="7.2"/><circle cx="232.5" cy="740.2" r="7.2"/><circle cx="233.6" cy="740.1" r="7.2"/><circle cx="234.6" cy="740.1" r="7.2"/><circle cx="235.6" cy="740.0" r="7.2"/><circle cx="236.7" cy="740.0" r="7.2"/><circle cx="237.7" cy="739.9" r="7.2"/><circle cx="238.7" cy="739.9" r="7.2"/><circle cx="239.8" cy="739.8" r="7.2"/><circle cx="240.8" cy="739.8" r="7.2"/><circle cx="241.8" cy="739.7" r="7.2"/><circle cx="242.9" cy="739.7" r="7.2"/><circle cx="243.9" cy="739.6" r="7.2"/><circle cx="244.9" cy="739.6" r="7.2"/><circle cx="246.0" cy="739.6" r="7.2"/><circle cx="247.0" cy="739.5" r="7.2"/><circle cx="248.0" cy="739.4" r="7.2"/><circle cx="249.1" cy="739.4" r="7.2"/><circle cx="250.1" cy="739.3" r="7.2"/><circle cx="251.2" cy="739.2" r="7.2"/><circle cx="252.2" cy="739.1" r="7.2"/><circle cx="253.2" cy="739.1" r="7.2"/><circle cx="254.3" cy="739.0" r="7.2"/><circle cx="255.3" cy="738.9" r="7.2"/><circle cx="256.3" cy="738.9" r="7.2"/><circle cx="257.4" cy="738.9" r="7.2"/><circle cx="258.4" cy="738.8" r="7.2"/><circle cx="259.4" cy="738.7" r="7.2"/><circle cx="260.5" cy="738.6" r="7.2"/><circle cx="261.5" cy="738.5" r="7.2"/><circle cx="262.5" cy="738.4" r="7.2"/><circle cx="263.6" cy="738.3" r="7.2"/><circle cx="264.6" cy="738.2" r="7.2"/><circle cx="265.6" cy="738.1" r="7.2"/><circle cx="266.7" cy="738.0" r="7.2"/><circle cx="267.7" cy="737.9" r="7.2"/><circle cx="268.7" cy="737.8" r="7.2"/><circle cx="269.8" cy="737.7" r="7.2"/><circle cx="270.8" cy="737.6" r="7.2"/><circle cx="271.8" cy="737.5" r="7.2"/><circle cx="272.9" cy="737.4" r="7.2"/><circle cx="273.9" cy="737.3" r="7.2"/><circle cx="274.9" cy="737.2" r="7.2"/><circle cx="276.0" cy="737.1" r="7.2"/><circle cx="277.0" cy="737.0" r="7.2"/><circle cx="278.0" cy="736.9" r="7.2"/><circle cx="279.1" cy="736.8" r="7.2"/><circle cx="280.1" cy="736.7" r="7.2"/><circle cx="281.1" cy="736.6" r="7.2"/><circle cx="282.2" cy="736.5" r="7.2"/><circle cx="283.2" cy="736.4" r="7.2"/><circle cx="284.3" cy="736.3" r="7.2"/><circle cx="285.3" cy="736.3" r="7.2"/><circle cx="286.3" cy="736.2" r="7.2"/><circle cx="287.4" cy="736.2" r="7.2"/><circle cx="288.4" cy="736.2" r="7.2"/><circle cx="289.4" cy="736.1" r="7.2"/><circle cx="290.5" cy="736.1" r="7.2"/><circle cx="291.5" cy="736.0" r="7.2"/><circle cx="292.5" cy="736.0" r="7.2"/><circle cx="293.6" cy="735.9" r="7.2"/><circle cx="294.6" cy="735.8" r="7.2"/><circle cx="295.6" cy="735.7" r="7.2"/><circle cx="296.7" cy="735.7" r="7.2"/><circle cx="297.7" cy="735.6" r="7.2"/><circle cx="298.7" cy="735.5" r="7.2"/><circle cx="299.8" cy="735.5" r="7.2"/><circle cx="300.8" cy="735.4" r="7.2"/><circle cx="301.8" cy="735.4" r="7.2"/><circle cx="302.9" cy="735.3" r="7.2"/><circle cx="303.9" cy="735.2" r="7.2"/><circle cx="304.9" cy="735.1" r="7.2"/><circle cx="306.0" cy="734.9" r="7.2"/><circle cx="307.0" cy="734.8" r="7.2"/><circle cx="308.0" cy="734.7" r="7.2"/><circle cx="309.1" cy="734.5" r="7.2"/><circle cx="310.1" cy="734.4" r="7.2"/><circle cx="311.1" cy="734.4" r="7.2"/><circle cx="312.2" cy="734.3" r="7.2"/><circle cx="313.2" cy="734.2" r="7.2"/><circle cx="314.2" cy="734.1" r="7.2"/><circle cx="315.3" cy="734.0" r="7.2"/><circle cx="316.3" cy="733.7" r="7.2"/><circle cx="317.3" cy="733.4" r="7.2"/><circle cx="318.4" cy="733.1" r="7.2"/><circle cx="319.4" cy="732.9" r="7.2"/><circle cx="320.5" cy="732.8" r="7.2"/><circle cx="321.5" cy="732.7" r="7.2"/><circle cx="322.5" cy="732.5" r="7.2"/><circle cx="323.6" cy="732.4" r="7.2"/><circle cx="324.6" cy="732.3" r="7.2"/><circle cx="325.6" cy="732.1" r="7.2"/><circle cx="326.7" cy="731.9" r="7.2"/><circle cx="327.7" cy="731.6" r="7.2"/><circle cx="328.7" cy="731.2" r="7.2"/><circle cx="329.8" cy="730.9" r="7.2"/><circle cx="330.8" cy="730.5" r="7.2"/><circle cx="331.8" cy="730.3" r="7.2"/><circle cx="332.9" cy="730.0" r="7.2"/><circle cx="333.9" cy="729.7" r="7.2"/><circle cx="334.9" cy="729.5" r="7.2"/><circle cx="336.0" cy="729.3" r="7.2"/><circle cx="337.0" cy="729.1" r="7.2"/><circle cx="338.0" cy="728.8" r="7.2"/><circle cx="339.1" cy="728.6" r="7.2"/><circle cx="340.1" cy="728.4" r="7.2"/><circle cx="341.1" cy="728.1" r="7.2"/><circle cx="342.2" cy="727.9" r="7.2"/><circle cx="343.2" cy="727.6" r="7.2"/><circle cx="344.2" cy="727.3" r="7.2"/><circle cx="345.3" cy="727.1" r="7.2"/><circle cx="346.3" cy="726.8" r="7.2"/><circle cx="347.3" cy="726.5" r="7.2"/><circle cx="348.4" cy="726.2" r="7.2"/><circle cx="349.4" cy="726.1" r="7.2"/><circle cx="350.4" cy="726.0" r="7.2"/><circle cx="351.5" cy="725.9" r="7.2"/><circle cx="352.5" cy="725.8" r="7.2"/><circle cx="353.6" cy="725.7" r="7.2"/><circle cx="354.6" cy="725.7" r="7.2"/><circle cx="355.6" cy="725.6" r="7.2"/><circle cx="356.7" cy="725.6" r="7.2"/><circle cx="357.7" cy="725.6" r="7.2"/><circle cx="358.7" cy="725.4" r="7.2"/><circle cx="359.8" cy="725.2" r="7.2"/><circle cx="360.8" cy="725.0" r="7.2"/><circle cx="361.8" cy="724.8" r="7.2"/><circle cx="362.9" cy="724.6" r="7.2"/><circle cx="363.9" cy="724.5" r="7.2"/><circle cx="364.9" cy="724.3" r="7.2"/><circle cx="366.0" cy="724.0" r="7.2"/><circle cx="367.0" cy="723.8" r="7.2"/><circle cx="368.0" cy="723.6" r="7.2"/><circle cx="369.1" cy="723.4" r="7.2"/><circle cx="370.1" cy="723.2" r="7.2"/><circle cx="371.1" cy="722.9" r="7.2"/><circle cx="372.2" cy="722.7" r="7.2"/><circle cx="373.2" cy="722.5" r="7.2"/><circle cx="374.2" cy="722.4" r="7.2"/><circle cx="375.3" cy="722.2" r="7.2"/><circle cx="376.3" cy="721.9" r="7.2"/><circle cx="377.3" cy="721.5" r="7.2"/><circle cx="378.4" cy="721.2" r="7.2"/><circle cx="379.4" cy="721.2" r="7.2"/><circle cx="380.4" cy="721.2" r="7.2"/><circle cx="381.5" cy="721.2" r="7.2"/><circle cx="382.5" cy="721.0" r="7.2"/><circle cx="383.5" cy="720.7" r="7.2"/><circle cx="384.6" cy="720.6" r="7.2"/><circle cx="385.6" cy="720.5" r="7.2"/><circle cx="386.7" cy="720.4" r="7.2"/><circle cx="387.7" cy="720.3" r="7.2"/><circle cx="388.7" cy="720.1" r="7.2"/><circle cx="389.8" cy="719.8" r="7.2"/><circle cx="390.8" cy="719.6" r="7.2"/><circle cx="391.8" cy="719.6" r="7.2"/><circle cx="392.9" cy="719.5" r="7.2"/><circle cx="393.9" cy="719.4" r="7.2"/><circle cx="394.9" cy="719.3" r="7.2"/><circle cx="396.0" cy="719.2" r="7.2"/><circle cx="397.0" cy="719.1" r="7.2"/><circle cx="398.0" cy="719.1" r="7.2"/><circle cx="399.1" cy="719.0" r="7.2"/><circle cx="400.1" cy="718.9" r="7.2"/><circle cx="401.1" cy="718.7" r="7.2"/><circle cx="402.2" cy="718.6" r="7.2"/><circle cx="403.2" cy="718.5" r="7.2"/><circle cx="404.2" cy="718.4" r="7.2"/><circle cx="405.3" cy="718.3" r="7.2"/><circle cx="406.3" cy="718.1" r="7.2"/><circle cx="407.3" cy="717.9" r="7.2"/><circle cx="408.4" cy="717.7" r="7.2"/><circle cx="409.4" cy="717.6" r="7.2"/><circle cx="410.4" cy="717.5" r="7.2"/><circle cx="411.5" cy="717.4" r="7.2"/><circle cx="412.5" cy="717.3" r="7.2"/><circle cx="413.5" cy="717.2" r="7.2"/><circle cx="414.6" cy="717.0" r="7.2"/><circle cx="415.6" cy="716.8" r="7.2"/><circle cx="416.6" cy="716.6" r="7.2"/><circle cx="417.7" cy="716.3" r="7.2"/><circle cx="418.7" cy="715.8" r="7.2"/><circle cx="419.7" cy="715.4" r="7.2"/><circle cx="420.8" cy="715.1" r="7.2"/><circle cx="421.8" cy="714.9" r="7.2"/><circle cx="422.9" cy="714.7" r="7.2"/><circle cx="423.9" cy="714.5" r="7.2"/><circle cx="424.9" cy="714.2" r="7.2"/><circle cx="426.0" cy="714.0" r="7.2"/><circle cx="427.0" cy="713.7" r="7.2"/><circle cx="428.0" cy="713.3" r="7.2"/><circle cx="429.1" cy="712.9" r="7.2"/><circle cx="430.1" cy="712.7" r="7.2"/><circle cx="431.1" cy="712.5" r="7.2"/><circle cx="432.2" cy="712.4" r="7.2"/><circle cx="433.2" cy="712.1" r="7.2"/><circle cx="434.2" cy="711.7" r="7.2"/><circle cx="435.3" cy="711.3" r="7.2"/><circle cx="436.3" cy="710.9" r="7.2"/><circle cx="437.3" cy="710.6" r="7.2"/><circle cx="438.4" cy="710.2" r="7.2"/><circle cx="439.4" cy="709.8" r="7.2"/><circle cx="440.4" cy="709.3" r="7.2"/><circle cx="441.5" cy="708.9" r="7.2"/><circle cx="442.5" cy="708.6" r="7.2"/><circle cx="443.5" cy="708.4" r="7.2"/><circle cx="444.6" cy="708.1" r="7.2"/><circle cx="445.6" cy="707.8" r="7.2"/><circle cx="446.6" cy="707.5" r="7.2"/><circle cx="447.7" cy="707.1" r="7.2"/><circle cx="448.7" cy="706.8" r="7.2"/><circle cx="449.7" cy="706.4" r="7.2"/><circle cx="450.8" cy="706.1" r="7.2"/><circle cx="451.8" cy="706.0" r="7.2"/><circle cx="452.8" cy="705.9" r="7.2"/><circle cx="453.9" cy="705.7" r="7.2"/><circle cx="454.9" cy="705.3" r="7.2"/><circle cx="456.0" cy="705.0" r="7.2"/><circle cx="457.0" cy="704.6" r="7.2"/><circle cx="458.0" cy="704.1" r="7.2"/><circle cx="459.1" cy="703.7" r="7.2"/><circle cx="460.1" cy="703.2" r="7.2"/><circle cx="461.1" cy="702.7" r="7.2"/><circle cx="462.2" cy="702.1" r="7.2"/><circle cx="463.2" cy="701.7" r="7.2"/><circle cx="464.2" cy="701.3" r="7.2"/><circle cx="465.3" cy="700.9" r="7.2"/><circle cx="466.3" cy="700.6" r="7.2"/><circle cx="467.3" cy="700.2" r="7.2"/><circle cx="468.4" cy="699.9" r="7.2"/><circle cx="469.4" cy="699.7" r="7.2"/><circle cx="470.4" cy="699.5" r="7.2"/><circle cx="471.5" cy="699.3" r="7.2"/><circle cx="472.5" cy="699.1" r="7.2"/><circle cx="473.5" cy="698.8" r="7.2"/><circle cx="474.6" cy="698.6" r="7.2"/><circle cx="475.6" cy="698.4" r="7.2"/><circle cx="476.6" cy="698.2" r="7.2"/><circle cx="477.7" cy="698.0" r="7.2"/><circle cx="478.7" cy="697.8" r="7.2"/><circle cx="479.7" cy="697.5" r="7.2"/><circle cx="480.8" cy="697.3" r="7.2"/><circle cx="481.8" cy="697.1" r="7.2"/><circle cx="482.8" cy="696.9" r="7.2"/><circle cx="483.9" cy="696.6" r="7.2"/><circle cx="484.9" cy="696.1" r="7.2"/><circle cx="485.9" cy="695.5" r="7.2"/><circle cx="487.0" cy="694.6" r="7.2"/><circle cx="488.0" cy="693.3" r="7.2"/><circle cx="489.1" cy="692.1" r="7.2"/><circle cx="490.1" cy="691.3" r="7.2"/><circle cx="491.1" cy="690.8" r="7.2"/><circle cx="492.2" cy="690.2" r="7.2"/><circle cx="493.2" cy="690.0" r="7.2"/><circle cx="494.2" cy="689.9" r="7.2"/><circle cx="495.3" cy="689.7" r="7.2"/><circle cx="496.3" cy="689.5" r="7.2"/><circle cx="497.3" cy="689.3" r="7.2"/><circle cx="498.4" cy="689.1" r="7.2"/><circle cx="499.4" cy="688.8" r="7.2"/><circle cx="500.4" cy="688.5" r="7.2"/><circle cx="501.5" cy="688.1" r="7.2"/><circle cx="502.5" cy="687.4" r="7.2"/><circle cx="503.5" cy="686.7" r="7.2"/><circle cx="504.6" cy="686.0" r="7.2"/><circle cx="505.6" cy="685.4" r="7.2"/><circle cx="506.6" cy="684.9" r="7.2"/><circle cx="507.7" cy="684.4" r="7.2"/><circle cx="508.7" cy="684.3" r="7.2"/><circle cx="509.7" cy="684.1" r="7.2"/><circle cx="510.8" cy="683.9" r="7.2"/><circle cx="511.8" cy="683.6" r="7.2"/><circle cx="512.8" cy="683.2" r="7.2"/><circle cx="513.9" cy="682.8" r="7.2"/><circle cx="514.9" cy="682.4" r="7.2"/><circle cx="515.9" cy="682.0" r="7.2"/><circle cx="517.0" cy="681.6" r="7.2"/><circle cx="518.0" cy="681.2" r="7.2"/><circle cx="519.0" cy="680.7" r="7.2"/><circle cx="520.1" cy="680.5" r="7.2"/><circle cx="521.1" cy="680.3" r="7.2"/><circle cx="522.1" cy="680.0" r="7.2"/><circle cx="523.2" cy="679.9" r="7.2"/><circle cx="524.2" cy="679.8" r="7.2"/><circle cx="525.3" cy="679.7" r="7.2"/><circle cx="526.3" cy="679.5" r="7.2"/><circle cx="527.3" cy="679.3" r="7.2"/><circle cx="528.4" cy="679.1" r="7.2"/><circle cx="529.4" cy="679.0" r="7.2"/><circle cx="530.4" cy="678.9" r="7.2"/><circle cx="531.5" cy="678.8" r="7.2"/><circle cx="532.5" cy="678.5" r="7.2"/><circle cx="533.5" cy="678.1" r="7.2"/><circle cx="534.6" cy="677.8" r="7.2"/><circle cx="535.6" cy="677.7" r="7.2"/><circle cx="536.6" cy="677.5" r="7.2"/><circle cx="537.7" cy="677.3" r="7.2"/><circle cx="538.7" cy="676.6" r="7.2"/><circle cx="539.7" cy="675.9" r="7.2"/><circle cx="540.8" cy="675.5" r="7.2"/><circle cx="541.8" cy="675.4" r="7.2"/><circle cx="542.8" cy="675.4" r="7.2"/><circle cx="543.9" cy="675.0" r="7.2"/><circle cx="544.9" cy="674.4" r="7.2"/><circle cx="545.9" cy="673.7" r="7.2"/><circle cx="547.0" cy="673.4" r="7.2"/><circle cx="548.0" cy="673.4" r="7.2"/><circle cx="549.0" cy="673.4" r="7.2"/><circle cx="550.1" cy="672.9" r="7.2"/><circle cx="551.1" cy="672.2" r="7.2"/><circle cx="552.1" cy="671.4" r="7.2"/><circle cx="553.2" cy="671.0" r="7.2"/><circle cx="554.2" cy="670.8" r="7.2"/><circle cx="555.2" cy="670.5" r="7.2"/><circle cx="556.3" cy="670.3" r="7.2"/><circle cx="557.3" cy="670.2" r="7.2"/><circle cx="558.4" cy="670.1" r="7.2"/><circle cx="559.4" cy="669.3" r="7.2"/><circle cx="560.4" cy="668.5" r="7.2"/><circle cx="561.5" cy="667.6" r="7.2"/><circle cx="562.5" cy="666.6" r="7.2"/><circle cx="563.5" cy="665.6" r="7.2"/><circle cx="564.6" cy="664.7" r="7.2"/><circle cx="565.6" cy="664.0" r="7.2"/><circle cx="566.6" cy="663.4" r="7.2"/><circle cx="567.7" cy="662.7" r="7.2"/><circle cx="568.7" cy="662.2" r="7.2"/><circle cx="569.7" cy="661.7" r="7.2"/><circle cx="570.8" cy="661.3" r="7.2"/><circle cx="571.8" cy="661.3" r="7.2"/><circle cx="572.8" cy="661.3" r="7.2"/><circle cx="573.9" cy="661.0" r="7.2"/><circle cx="574.9" cy="660.2" r="7.2"/><circle cx="575.9" cy="659.5" r="7.2"/><circle cx="577.0" cy="659.1" r="7.2"/><circle cx="578.0" cy="659.0" r="7.2"/><circle cx="579.0" cy="658.9" r="7.2"/><circle cx="580.1" cy="658.6" r="7.2"/><circle cx="581.1" cy="658.3" r="7.2"/><circle cx="582.1" cy="658.0" r="7.2"/><circle cx="583.2" cy="657.6" r="7.2"/><circle cx="584.2" cy="657.3" r="7.2"/><circle cx="585.2" cy="656.9" r="7.2"/><circle cx="586.3" cy="656.5" r="7.2"/><circle cx="587.3" cy="656.1" r="7.2"/><circle cx="588.3" cy="655.7" r="7.2"/><circle cx="589.4" cy="655.7" r="7.2"/><circle cx="590.4" cy="655.7" r="7.2"/><circle cx="591.5" cy="655.6" r="7.2"/><circle cx="592.5" cy="654.7" r="7.2"/><circle cx="593.5" cy="653.8" r="7.2"/><circle cx="594.6" cy="653.0" r="7.2"/><circle cx="595.6" cy="652.3" r="7.2"/><circle cx="596.6" cy="651.7" r="7.2"/><circle cx="597.7" cy="650.9" r="7.2"/><circle cx="598.7" cy="649.8" r="7.2"/><circle cx="599.7" cy="648.7" r="7.2"/><circle cx="600.8" cy="647.8" r="7.2"/><circle cx="601.8" cy="647.1" r="7.2"/><circle cx="602.8" cy="646.5" r="7.2"/><circle cx="603.9" cy="646.0" r="7.2"/><circle cx="604.9" cy="645.6" r="7.2"/><circle cx="605.9" cy="645.3" r="7.2"/><circle cx="607.0" cy="644.9" r="7.2"/><circle cx="608.0" cy="644.5" r="7.2"/><circle cx="609.0" cy="644.1" r="7.2"/><circle cx="610.1" cy="643.7" r="7.2"/><circle cx="611.1" cy="643.4" r="7.2"/><circle cx="612.1" cy="643.0" r="7.2"/><circle cx="613.2" cy="642.7" r="7.2"/><circle cx="614.2" cy="642.4" r="7.2"/><circle cx="615.2" cy="642.1" r="7.2"/><circle cx="616.3" cy="641.6" r="7.2"/><circle cx="617.3" cy="641.1" r="7.2"/><circle cx="618.3" cy="640.6" r="7.2"/><circle cx="619.4" cy="639.7" r="7.2"/><circle cx="620.4" cy="638.7" r="7.2"/><circle cx="621.4" cy="637.7" r="7.2"/><circle cx="622.5" cy="637.7" r="7.2"/><circle cx="623.5" cy="637.7" r="7.2"/><circle cx="624.5" cy="637.6" r="7.2"/><circle cx="625.6" cy="636.8" r="7.2"/><circle cx="626.6" cy="636.0" r="7.2"/><circle cx="627.7" cy="635.2" r="7.2"/><circle cx="628.7" cy="634.7" r="7.2"/><circle cx="629.7" cy="634.1" r="7.2"/><circle cx="630.8" cy="633.5" r="7.2"/><circle cx="631.8" cy="632.9" r="7.2"/><circle cx="632.8" cy="632.3" r="7.2"/><circle cx="633.9" cy="631.6" r="7.2"/><circle cx="634.9" cy="630.6" r="7.2"/><circle cx="635.9" cy="629.6" r="7.2"/><circle cx="637.0" cy="628.7" r="7.2"/><circle cx="638.0" cy="627.8" r="7.2"/><circle cx="639.0" cy="626.9" r="7.2"/><circle cx="640.1" cy="626.3" r="7.2"/><circle cx="641.1" cy="625.9" r="7.2"/><circle cx="642.1" cy="625.5" r="7.2"/><circle cx="643.2" cy="625.2" r="7.2"/><circle cx="644.2" cy="624.9" r="7.2"/><circle cx="645.2" cy="624.7" r="7.2"/><circle cx="646.3" cy="624.5" r="7.2"/><circle cx="647.3" cy="624.4" r="7.2"/><circle cx="648.3" cy="624.2" r="7.2"/><circle cx="649.4" cy="624.0" r="7.2"/><circle cx="650.4" cy="623.7" r="7.2"/><circle cx="651.4" cy="623.4" r="7.2"/><circle cx="652.5" cy="623.1" r="7.2"/><circle cx="653.5" cy="622.7" r="7.2"/><circle cx="654.5" cy="622.3" r="7.2"/><circle cx="655.6" cy="622.0" r="7.2"/><circle cx="656.6" cy="621.6" r="7.2"/><circle cx="657.6" cy="621.3" r="7.2"/><circle cx="658.7" cy="621.0" r="7.2"/><circle cx="659.7" cy="620.6" r="7.2"/><circle cx="660.8" cy="620.4" r="7.2"/><circle cx="661.8" cy="620.3" r="7.2"/><circle cx="662.8" cy="620.2" r="7.2"/><circle cx="663.9" cy="620.0" r="7.2"/><circle cx="664.9" cy="619.7" r="7.2"/><circle cx="665.9" cy="619.5" r="7.2"/><circle cx="667.0" cy="618.8" r="7.2"/><circle cx="668.0" cy="617.8" r="7.2"/><circle cx="669.0" cy="616.7" r="7.2"/><circle cx="670.1" cy="616.0" r="7.2"/><circle cx="671.1" cy="615.6" r="7.2"/><circle cx="672.1" cy="615.1" r="7.2"/><circle cx="673.2" cy="614.7" r="7.2"/><circle cx="674.2" cy="614.3" r="7.2"/><circle cx="675.2" cy="613.9" r="7.2"/><circle cx="676.3" cy="613.5" r="7.2"/><circle cx="677.3" cy="613.1" r="7.2"/><circle cx="678.3" cy="612.7" r="7.2"/><circle cx="679.4" cy="612.3" r="7.2"/><circle cx="680.4" cy="611.9" r="7.2"/><circle cx="681.4" cy="611.5" r="7.2"/><circle cx="682.5" cy="611.0" r="7.2"/><circle cx="683.5" cy="610.5" r="7.2"/><circle cx="684.5" cy="610.0" r="7.2"/><circle cx="685.6" cy="609.5" r="7.2"/><circle cx="686.6" cy="609.0" r="7.2"/><circle cx="687.6" cy="608.5" r="7.2"/><circle cx="688.7" cy="608.1" r="7.2"/><circle cx="689.7" cy="607.7" r="7.2"/><circle cx="690.7" cy="607.4" r="7.2"/><circle cx="691.8" cy="607.1" r="7.2"/><circle cx="692.8" cy="606.8" r="7.2"/><circle cx="693.9" cy="606.4" r="7.2"/><circle cx="694.9" cy="606.1" r="7.2"/><circle cx="695.9" cy="605.7" r="7.2"/><circle cx="697.0" cy="605.4" r="7.2"/><circle cx="698.0" cy="605.1" r="7.2"/><circle cx="699.0" cy="604.9" r="7.2"/><circle cx="700.1" cy="604.5" r="7.2"/><circle cx="701.1" cy="604.1" r="7.2"/><circle cx="702.1" cy="603.7" r="7.2"/><circle cx="703.2" cy="602.9" r="7.2"/></g>
<line x1="157.44" y1="752.53" x2="1263.36" y2="452.20" stroke="#ff0000" stroke-width="2" stroke-linecap="round"/>
</g>
<line x1="561.10" y1="195.75" x2="618.60" y2="195.75" stroke="#0000ff" stroke-width="2" stroke-linecap="round"/><line x1="561.10" y1="234.15" x2="618.60" y2="234.15" stroke="#ff0000" stroke-width="2" stroke-linecap="round"/>
<g opacity="0.999" font-family="Liberation Sans, sans-serif" fill="#000">
<g transform="translate(197.37,834.00) scale(1.0,1.04)"><text x="-8.90" y="0" font-size="32">0</text></g><g transform="translate(404.23,834.00) scale(1.0,1.04)"><text x="-26.70" y="0" font-size="32">200</text></g><g transform="translate(611.10,834.00) scale(1.0,1.04)"><text x="-26.70" y="0" font-size="32">400</text></g><g transform="translate(817.97,834.00) scale(1.0,1.04)"><text x="-26.70" y="0" font-size="32">600</text></g><g transform="translate(1024.84,834.00) scale(1.0,1.04)"><text x="-26.70" y="0" font-size="32">800</text></g><g transform="translate(1231.71,834.00) scale(1.0,1.04)"><text x="-35.59" y="0" font-size="32">1000</text><rect x="-33.96" y="-3.49" width="6.41" height="4.49" fill="#fff"/><rect x="-24.72" y="-3.49" width="6.16" height="4.49" fill="#fff"/></g><g transform="translate(111.00,741.69) rotate(-90) scale(1.0,1.04)"><text x="-40.04" y="0" font-size="32">0.000</text></g><g transform="translate(111.00,629.33) rotate(-90) scale(1.0,1.04)"><text x="-40.04" y="0" font-size="32">0.002</text></g><g transform="translate(111.00,516.98) rotate(-90) scale(1.0,1.04)"><text x="-40.04" y="0" font-size="32">0.004</text></g><g transform="translate(111.00,404.62) rotate(-90) scale(1.0,1.04)"><text x="-40.04" y="0" font-size="32">0.006</text></g><g transform="translate(111.00,292.27) rotate(-90) scale(1.0,1.04)"><text x="-40.04" y="0" font-size="32">0.008</text></g><g transform="translate(111.00,179.91) rotate(-90) scale(1.0,1.04)"><text x="-40.04" y="0" font-size="32">0.010</text><rect x="6.08" y="-3.49" width="6.41" height="4.49" fill="#fff"/><rect x="15.32" y="-3.49" width="6.16" height="4.49" fill="#fff"/></g><g transform="translate(710.40,911.10) scale(1.0,1.04)"><text x="-40.90" y="0" font-size="32">Order</text></g><g transform="translate(34.70,460.80) rotate(-90) scale(1.0,1.04)"><text x="-114.73" y="0" font-size="32">Ordered p value</text></g><g transform="translate(710.00,92.75) scale(1.006,1.04)"><text x="-251.80" y="0" font-size="38.4" font-weight="bold">Zoom-in to p values &lt;= 0.01</text><rect x="232.07" y="-5.02" width="7.34" height="6.02" fill="#fff"/><rect x="244.68" y="-5.02" width="6.86" height="6.02" fill="#fff"/></g><g transform="translate(647.00,207.50) scale(1.0,1.04)"><text x="0.00" y="0" font-size="32">Uniform</text></g><g transform="translate(647.00,245.50) scale(1.0,1.04)"><text x="0.00" y="0" font-size="32">BH, FDR = 0.05</text></g>
</g>
</svg></body></html>
